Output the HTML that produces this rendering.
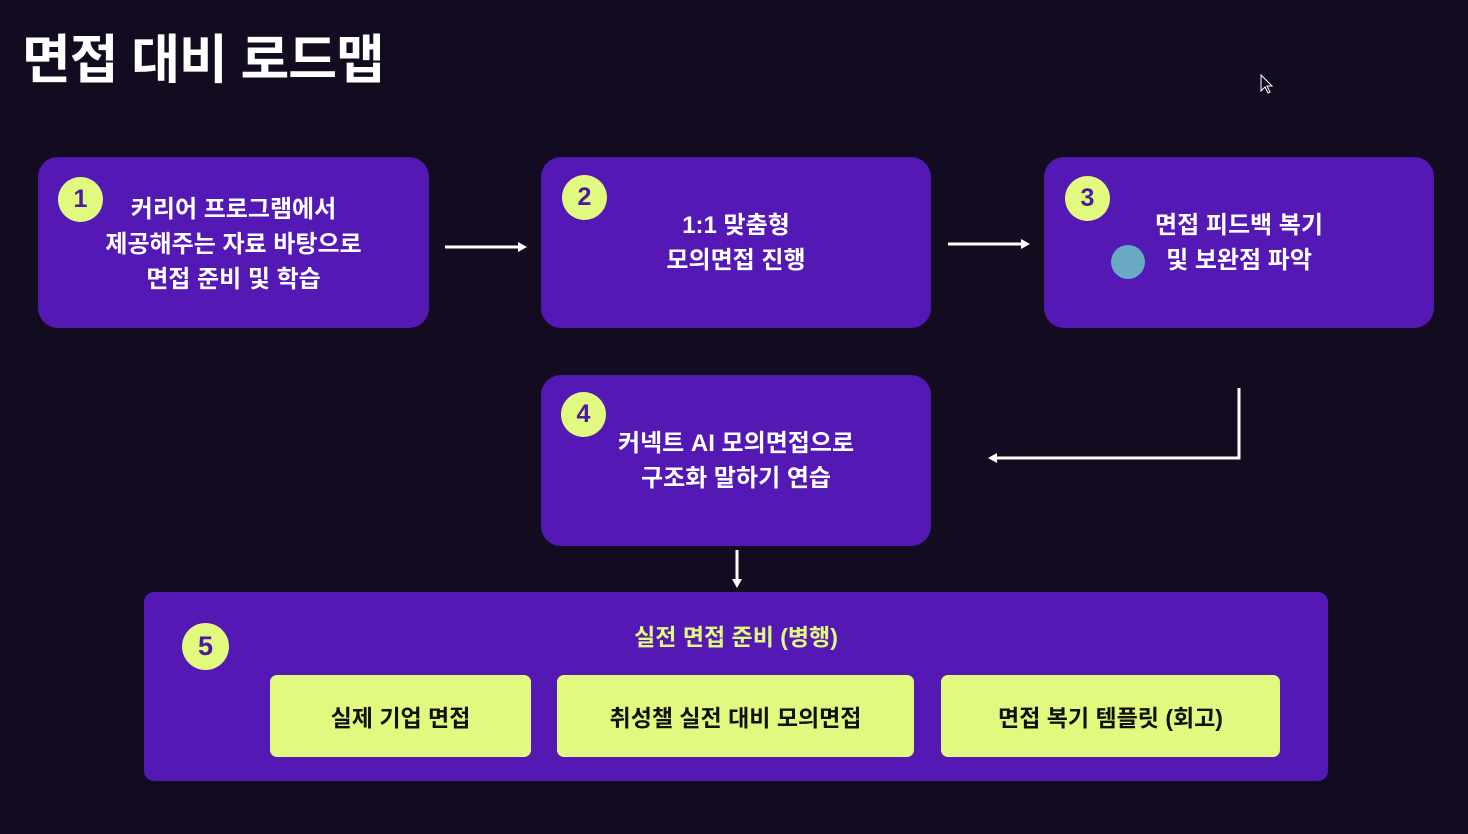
<!DOCTYPE html>
<html><head><meta charset="utf-8"><style>
*{margin:0;padding:0;box-sizing:border-box}
body{width:1468px;height:834px;background:#130b1f;position:relative;overflow:hidden;font-family:"Liberation Sans","Noto Sans CJK KR",sans-serif;font-weight:700}
.box{position:absolute;background:#5418b4;border-radius:20px;color:#fff;font-size:24px;line-height:35px;text-align:center;display:flex;align-items:center;justify-content:center}
.c{position:absolute;width:45px;height:45px;border-radius:50%;background:#e1f97e;color:#4a1aa0;font-size:25px;display:flex;align-items:center;justify-content:center}
.sub{position:absolute;background:#e1f97e;border-radius:7px;color:#111;font-size:23px;display:flex;align-items:center;justify-content:center;top:675px;height:82px}
h1{position:absolute;left:22px;top:29px;font-size:53px;line-height:64px;color:#fff;letter-spacing:-1px}
</style></head><body>
<h1>면접 대비 로드맵</h1>
<div class="box" style="left:38px;top:157px;width:391px;height:171px;padding-top:3px">커리어 프로그램에서<br>제공해주는 자료 바탕으로<br>면접 준비 및 학습</div>
<div class="box" style="left:541px;top:157px;width:390px;height:171px">1:1 맞춤형<br>모의면접 진행</div>
<div class="box" style="left:1044px;top:157px;width:390px;height:171px">면접 피드백 복기<br>및 보완점 파악</div>
<div class="box" style="left:541px;top:375px;width:390px;height:171px">커넥트 AI 모의면접으로<br>구조화 말하기 연습</div>
<div class="box" style="left:144px;top:592px;width:1184px;height:189px;border-radius:10px;align-items:flex-start;padding-top:28px;color:#e1f97e;font-size:23px">실전 면접 준비 (병행)</div>
<div class="sub" style="left:270px;width:261px">실제 기업 면접</div>
<div class="sub" style="left:557px;width:357px">취성챌 실전 대비 모의면접</div>
<div class="sub" style="left:941px;width:339px">면접 복기 템플릿 (회고)</div>
<div class="c" style="left:58px;top:177px">1</div>
<div class="c" style="left:562px;top:175px">2</div>
<div class="c" style="left:1065px;top:176px">3</div>
<div class="c" style="left:561px;top:392px">4</div>
<div class="c" style="left:182px;top:623px;width:47px;height:47px;font-size:27px">5</div>
<div style="position:absolute;left:1111px;top:245px;width:34px;height:34px;border-radius:50%;background:#6aa9c4"></div>
<svg width="1468" height="834" style="position:absolute;left:0;top:0" fill="none" stroke="#fff" stroke-width="3">
<line x1="445" y1="247" x2="520" y2="247"/><path d="M518 242 L527 247 L518 252Z" fill="#fff" stroke="none"/>
<line x1="948" y1="244" x2="1023" y2="244"/><path d="M1021 239 L1030 244 L1021 249Z" fill="#fff" stroke="none"/>
<polyline points="1239,388 1239,458 995,458"/><path d="M997 453 L988 458 L997 463Z" fill="#fff" stroke="none"/>
<line x1="737" y1="550" x2="737" y2="581"/><path d="M732 579 L737 588 L742 579Z" fill="#fff" stroke="none"/>
<path d="M1261 75 L1261 91 L1265 87 L1268 93 L1270 92 L1267 86 L1272 86 Z" fill="#130b1f" stroke="#fff" stroke-width="1"/>
</svg>
</body></html>
